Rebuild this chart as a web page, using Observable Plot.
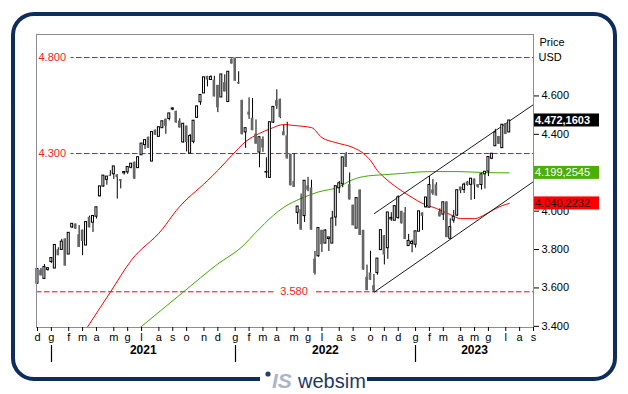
<!DOCTYPE html>
<html><head><meta charset="utf-8">
<script src="https://cdn.jsdelivr.net/npm/d3@7"></script>
<script src="https://cdn.jsdelivr.net/npm/@observablehq/plot@0.6"></script>
<style>body{margin:0;background:#fff}</style>
</head><body><div id="chart"></div>
<script>
// Weekly candles (values in thousands of USD), first candle week ending 2020-12-04
const firstWeek = "2020-12-04";
const open = [
3.622,3.692,3.647,3.694,3.735,3.701,3.799,3.798,3.855,3.774,
3.915,3.933,3.877,3.901,3.821,3.968,3.940,3.971,4.077,4.128,
4.163,4.187,4.192,4.189,4.164,4.197,4.202,4.226,4.255,4.224,
4.291,4.344,4.385,4.258,4.422,4.387,4.432,4.479,4.480,4.529,
4.520,4.469,4.358,4.443,4.300,4.361,4.486,4.567,4.613,4.702,
4.683,4.683,4.655,4.592,4.669,4.568,4.791,4.797,4.670,4.577,
4.410,4.516,4.484,4.401,4.305,4.374,4.201,4.173,4.461,4.575,
4.583,4.413,4.392,4.296,4.155,3.991,4.008,3.974,4.132,4.121,
3.750,3.765,3.900,3.831,3.855,3.831,3.967,4.119,4.140,4.297,
4.138,4.031,3.909,4.110,3.900,3.655,3.678,3.612,3.677,3.797,
3.872,3.807,3.957,3.950,3.964,3.999,3.991,3.818,3.829,3.825,
3.893,3.991,4.020,4.018,4.111,4.137,3.997,3.982,4.048,3.856,
3.951,3.977,4.125,4.110,4.152,4.137,4.167,4.138,4.136,4.192,
4.206,4.273,4.338,4.389,4.328,4.456,4.410];
const high = [
3.699,3.702,3.722,3.703,3.756,3.824,3.809,3.853,3.855,3.887,
3.934,3.933,3.925,3.901,3.943,3.974,3.975,4.020,4.129,4.185,
4.180,4.211,4.233,4.189,4.164,4.204,4.230,4.247,4.255,4.281,
4.352,4.370,4.385,4.412,4.422,4.437,4.468,4.479,4.509,4.537,
4.520,4.481,4.455,4.443,4.400,4.471,4.549,4.605,4.697,4.702,
4.705,4.702,4.655,4.712,4.710,4.726,4.793,4.797,4.726,4.577,
4.432,4.590,4.587,4.475,4.385,4.387,4.278,4.463,4.543,4.632,
4.583,4.447,4.463,4.296,4.300,4.024,4.089,4.158,4.176,4.161,
3.790,3.912,3.900,3.903,3.863,3.999,4.130,4.155,4.280,4.305,
4.199,4.031,4.068,4.110,3.900,3.719,3.791,3.670,3.753,3.901,
3.872,3.993,3.992,4.028,4.080,3.999,4.019,3.879,3.849,3.895,
3.999,3.991,4.071,4.180,4.164,4.148,4.012,4.046,4.048,3.960,
4.003,4.109,4.125,4.146,4.155,4.169,4.167,4.138,4.198,4.205,
4.282,4.299,4.426,4.389,4.450,4.456,4.472];
const low = [
3.622,3.663,3.647,3.687,3.727,3.701,3.768,3.798,3.714,3.774,
3.910,3.906,3.811,3.768,3.821,3.913,3.889,3.959,4.074,4.125,
4.135,4.181,4.165,4.063,4.116,4.188,4.192,4.220,4.166,4.224,
4.291,4.321,4.327,4.258,4.395,4.387,4.432,4.400,4.470,4.523,
4.459,4.433,4.354,4.308,4.300,4.351,4.486,4.551,4.613,4.647,
4.683,4.595,4.513,4.592,4.621,4.568,4.766,4.677,4.660,4.398,
4.327,4.478,4.419,4.349,4.226,4.306,4.171,4.173,4.457,4.530,
4.481,4.393,4.272,4.132,4.123,3.930,3.901,3.941,4.101,3.901,
3.667,3.760,3.785,3.831,3.790,3.831,3.921,4.091,4.122,4.228,
4.058,3.924,3.909,3.873,3.693,3.586,3.640,3.577,3.666,3.797,
3.720,3.749,3.947,3.950,3.958,3.933,3.852,3.818,3.783,3.808,
3.893,3.899,4.016,4.018,4.082,4.079,3.970,3.951,3.862,3.856,
3.937,3.971,4.091,4.092,4.130,4.056,4.061,4.119,4.110,4.115,
4.180,4.268,4.338,4.348,4.328,4.399,4.410];
const close = [
3.699,3.663,3.709,3.703,3.756,3.824,3.768,3.841,3.714,3.887,
3.934,3.906,3.811,3.842,3.943,3.913,3.975,4.020,4.129,4.185,
4.180,4.181,4.233,4.174,4.156,4.204,4.230,4.247,4.166,4.281,
4.352,4.370,4.327,4.412,4.395,4.437,4.468,4.442,4.509,4.535,
4.459,4.433,4.455,4.357,4.391,4.471,4.545,4.605,4.697,4.683,
4.698,4.595,4.538,4.712,4.621,4.726,4.766,4.677,4.663,4.398,
4.432,4.500,4.419,4.349,4.385,4.329,4.204,4.463,4.543,4.546,
4.488,4.393,4.272,4.132,4.123,4.024,3.901,4.158,4.109,3.901,
3.675,3.912,3.825,3.899,3.863,3.962,4.130,4.145,4.280,4.228,
4.058,3.924,4.068,3.873,3.693,3.586,3.640,3.583,3.753,3.901,
3.771,3.993,3.965,4.026,4.072,3.934,3.852,3.845,3.840,3.895,
3.999,3.973,4.071,4.136,4.090,4.079,3.970,4.046,3.862,3.917,
3.971,4.109,4.105,4.138,4.133,4.169,4.136,4.124,4.192,4.205,
4.282,4.299,4.410,4.348,4.450,4.399,4.4721603];

// Moving averages (week index -> value)
const redWeeks  = [14,21,27,36,40,49,52,56,60,64,67,71,74,79,82,86,91,94,96,98,100,104,108,111,115,119,122,126,129,131,134,136];
const redValues = [3.385,3.578,3.743,3.906,4.003,4.159,4.212,4.290,4.362,4.405,4.428,4.451,4.446,4.435,4.383,4.357,4.331,4.300,4.264,4.211,4.175,4.118,4.071,4.040,4.014,3.982,3.961,3.961,3.982,4.003,4.029,4.0402232];
const greenWeeks  = [29,42,52,59,63,68,71,76,81,87,90,94,100,105,110,115,121,129,136];
const greenValues = [3.385,3.578,3.725,3.815,3.890,3.978,4.020,4.066,4.100,4.127,4.157,4.180,4.190,4.196,4.204,4.206,4.206,4.201,4.1992545];

// Trend channel
const channelFrom = ["2022-10-14","2022-10-14"];
const channelFromValue = [3.577, 3.986];
const channelTo = ["2023-09-01","2023-09-01"];
const channelToValue = [4.154, 4.555];

// Horizontal levels
const leftLevels = [4.8, 4.3];
const midLevels = [3.58];

const yTicks = [3.4, 3.6, 3.8, 4.0, 4.2, 4.4, 4.6];
const yTicksHidden = [4.2]; // covered by the last-value box in the reference
const monthLetters = ["g","f","m","a","m","g","l","a","s","o","n","d"];
const xDomain = ["2020-12-02", "2023-09-01"];

const lastValues = [4.4721603, 4.1992545, 4.0402232];
const lastFill = ["#000000", "#4caf08", "#ff0000"];
const lastTextColor = ["#ffffff", "#ffffff", "#1a0000"];
const lastWeight = ["bold", "normal", "normal"];

const it = d3.formatLocale({decimal: ",", thousands: ".", grouping: [3], currency: ["", "€"]});
const fmtInt = v => it.format(",d")(Math.round(v * 1000));
const fmtLast = v => it.format(",.4f")(v * 1000);

const day = 864e5;
const candles = close.map((c, i) => ({
  date: d3.utcDay.offset(new Date(firstWeek), 7 * i),
  open: open[i], high: high[i], low: low[i], close: c
}));
const up = candles.filter(d => d.close >= d.open);
const down = candles.filter(d => d.close < d.open);
const red = redWeeks.map((w, k) => ({date: candles[w].date, value: redValues[k]}));
const green = greenWeeks.map((w, k) => ({date: candles[w].date, value: greenValues[k]}));
const channel = channelFrom.map((f, k) => ({x1: new Date(f), y1: channelFromValue[k], x2: new Date(channelTo[k]), y2: channelToValue[k]}));

const monthTicks = d3.utcFriday.range(new Date("2020-12-04"), d3.utcDay.offset(new Date(xDomain[1]), 1))
  .filter(d => d.getUTCDate() <= 7);
const yearStarts = monthTicks.filter(d => d.getUTCMonth() === 0);
const domainEnd = new Date(xDomain[1]);
const yearMid = yearStarts.map((s, k) => {
  const e = k + 1 < yearStarts.length ? yearStarts[k + 1] : domainEnd;
  return {date: new Date((+s + +e) / 2), label: String(s.getUTCFullYear())};
});

const FONT = "'Liberation Sans', Arial, sans-serif";
const plot = Plot.plot({
  width: 628, height: 394,
  marginLeft: 36, marginRight: 95, marginTop: 34, marginBottom: 67,
  style: {fontFamily: FONT, fontSize: "11px", background: "#fff", color: "#000", overflow: "visible"},
  x: {type: "utc", domain: xDomain.map(d => new Date(d))},
  y: {domain: [3.394, 4.920]},
  marks: [
    Plot.ruleY(leftLevels.concat(midLevels), {y: d => d, stroke: "#ff0000", strokeWidth: 1, strokeDasharray: "5.5,2.5"}),
    Plot.text(leftLevels, {y: d => d, text: d => fmtInt(d), frameAnchor: "left", textAnchor: "start", dx: 2, fill: "#ff2020", stroke: "#fff", strokeWidth: 10, fontSize: 11}),
    Plot.text(midLevels, {y: d => d, text: d => fmtInt(d), frameAnchor: "middle", dx: 9, fill: "#ff2020", stroke: "#fff", strokeWidth: 12, fontSize: 11}),
    Plot.line(green, {x: "date", y: "value", stroke: "#44a800", strokeWidth: 1, curve: "monotone-x", clip: true}),
    Plot.line(red, {x: "date", y: "value", stroke: "#ff0000", strokeWidth: 1, curve: "monotone-x", clip: true}),
    Plot.link(channel, {x1: "x1", y1: "y1", x2: "x2", y2: "y2", stroke: "#000", strokeWidth: 0.9}),
    Plot.ruleX(candles, {x: "date", y1: "low", y2: "high", stroke: "#000", strokeWidth: 1}),
    Plot.rect(down, {x1: d => new Date(+d.date - 2.6 * day), x2: d => new Date(+d.date + 2.6 * day), y1: "open", y2: "close", fill: "#666666"}),
    Plot.rect(up, {x1: d => new Date(+d.date - 2 * day), x2: d => new Date(+d.date + 2 * day), y1: "open", y2: "close", fill: "#fff", stroke: "#000", strokeWidth: 1}),
    Plot.frame({stroke: "#8c8c98", strokeWidth: 1}),
    Plot.axisY({anchor: "right", ticks: yTicks, tickFormat: v => yTicksHidden.includes(v) ? "" : fmtInt(v), tickSize: 5, tickPadding: 3, fontSize: 11}),
    Plot.text(["USD"], {y: () => 4.8, text: d => d, frameAnchor: "right", textAnchor: "start", dx: 5, fontSize: 11}),
    Plot.text(["Price"], {y: () => 4.8, text: d => d, frameAnchor: "right", textAnchor: "start", dx: 6, dy: -15, fontSize: 11}),
    Plot.axisX({ticks: monthTicks, tickFormat: d => monthLetters[d.getUTCMonth()], tickSize: 4, tickPadding: 2, fontSize: 11}),
    Plot.text(yearMid, {x: "date", text: "label", frameAnchor: "bottom", dy: 26, fontWeight: "bold", fontSize: 12})
  ]
});

const svg = d3.select(plot);
const xs = plot.scale("x"), ys = plot.scale("y");

// year separators
svg.append("g").selectAll("line").data(yearStarts).join("line")
  .attr("x1", d => Math.round(xs.apply(d)) + 0.5).attr("x2", d => Math.round(xs.apply(d)) + 0.5)
  .attr("y1", 345).attr("y2", 362).attr("stroke", "#000").attr("stroke-width", 1.2);

// last value boxes
const boxes = svg.append("g").attr("text-anchor", "start");
lastValues.forEach((v, k) => {
  const yy = ys.apply(v);
  boxes.append("rect").attr("x", 534).attr("y", yy - 6.5).attr("width", 65).attr("height", 13).attr("fill", lastFill[k]);
  boxes.append("text").attr("x", 535).attr("y", yy).attr("dy", "0.36em").attr("text-anchor", "start")
    .attr("fill", lastTextColor[k]).attr("font-weight", lastWeight[k])
    .attr("font-size", 11).attr("font-family", FONT).text(fmtLast(v));
});

// outer rounded border with gap for logo
svg.append("path")
  .attr("d", "M260,379 H34 A21,21 0 0 1 13,358 V35 A21,21 0 0 1 34,14 H594 A21,21 0 0 1 615,35 V358 A21,21 0 0 1 594,379 H367")
  .attr("fill", "none").attr("stroke", "#0f2d5c").attr("stroke-width", 4);

// logo
const logo = svg.append("g").attr("font-family", FONT).attr("text-anchor", "start");
logo.append("circle").attr("cx", 268).attr("cy", 374).attr("r", 2.6).attr("fill", "#2a3f66");
logo.append("text").attr("x", 272).attr("y", 388).attr("font-size", 21).attr("font-style", "italic")
  .attr("font-weight", "bold").attr("fill", "#aab6c8").attr("text-anchor", "start").text("IS");
logo.append("text").attr("x", 298).attr("y", 388).attr("font-size", 20).attr("fill", "#1e3966").attr("text-anchor", "start").text("websim");

document.getElementById("chart").appendChild(plot);
</script>
</body></html>
